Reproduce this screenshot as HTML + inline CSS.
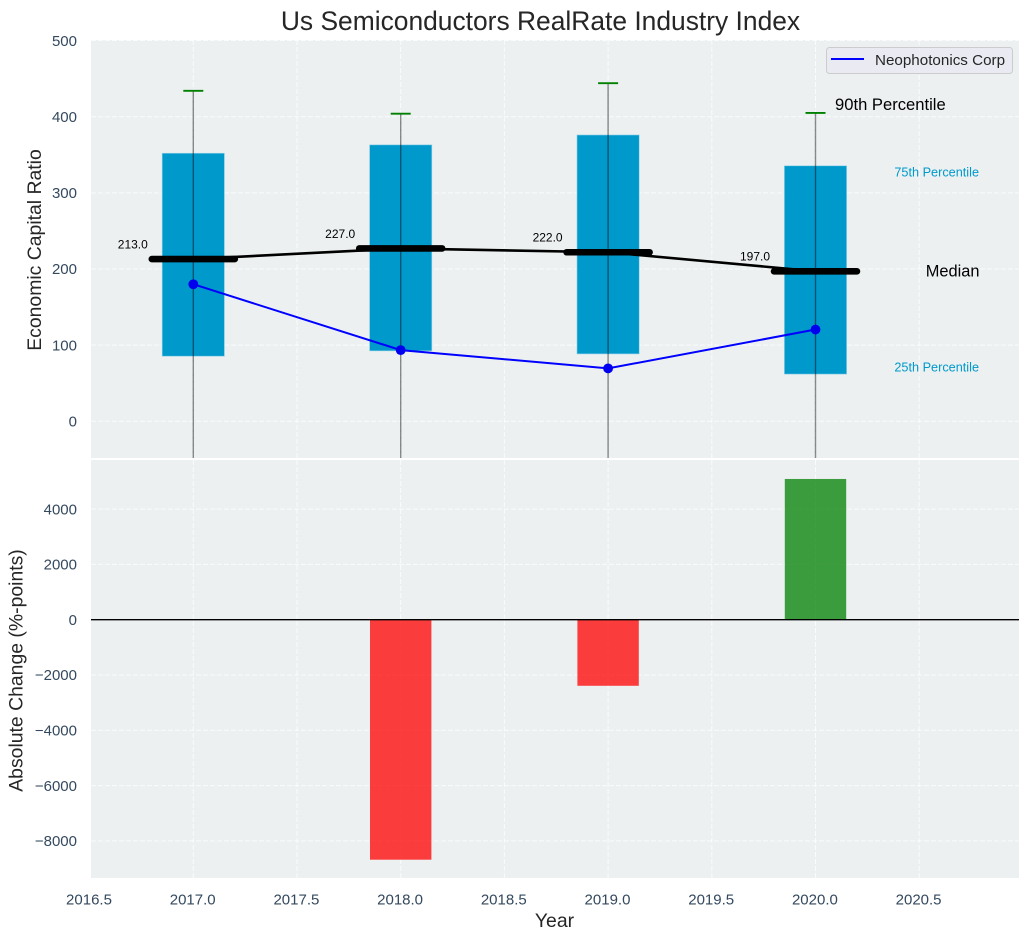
<!DOCTYPE html>
<html>
<head>
<meta charset="utf-8">
<title>Us Semiconductors RealRate Industry Index</title>
<style>
html,body{margin:0;padding:0;background:#fff;}
svg{display:block;font-family:"Liberation Sans",sans-serif;}
</style>
</head>
<body>
<svg id="chart" width="1029" height="940" viewBox="0 0 1029 940" xmlns="http://www.w3.org/2000/svg">
<defs>
<clipPath id="clip-top"><rect x="91" y="40" width="928" height="418"/></clipPath>
<clipPath id="clip-bottom"><rect x="91" y="460" width="928" height="418"/></clipPath>
</defs>
</svg>
<script>
const years = [2017, 2018, 2019, 2020];
const p90 = [434, 404, 444, 405];
const p75 = [352, 363, 376, 335.5];
const medians = [213, 227, 222, 197];
const p25 = [85.5, 92.5, 88.5, 62];
const whiskerLow = [-70, -70, -70, -70];
const companyValues = [180, 93.5, 69.5, 120.5];
const companyName = 'Neophotonics Corp';
const changeYears = [2018, 2019, 2020];
const changeValues = [-8680, -2390, 5090];
const xTicks = [2016.5, 2017, 2017.5, 2018, 2018.5, 2019, 2019.5, 2020, 2020.5];
const topTicks = [0, 100, 200, 300, 400, 500];
const bottomTicks = [-8000, -6000, -4000, -2000, 0, 2000, 4000];

const NS = 'http://www.w3.org/2000/svg';
const svg = document.getElementById('chart');
const fmtNum = v => String(v).replace('-', '\u2212');
const X = v => 193.3 + (v - 2017) * 207.4;
const YT = v => 421.3 - v * 0.7615;
const YB = v => 619.7 - v * 0.02765;
const boxHalf = 0.15;
const medianHalf = 0.2;
const barHalf = 0.148;

function make(tag, attrs, parent, text) {
  const el = document.createElementNS(NS, tag);
  for (const k in attrs) el.setAttribute(k, attrs[k]);
  if (text !== undefined) el.textContent = text;
  (parent || svg).appendChild(el);
  return el;
}
function polyPoints(xs, ys, yFn) {
  return xs.map((x, i) => X(x).toFixed(2) + ',' + yFn(ys[i]).toFixed(2)).join(' ');
}

/* Panels */
const topBg = make('rect', {x: 91, y: 40, width: 928, height: 418, fill: '#ecf0f1'});


const botBg = make('rect', {x: 91, y: 460, width: 928, height: 418, fill: '#ecf0f1'});



const gridStyle = {stroke: '#ffffff', 'stroke-opacity': 0.75, 'stroke-width': 1, 'stroke-dasharray': '5 2', fill: 'none'};

/* Grid */
xTicks.forEach(t => {
  if (X(t) < 91) return;
  const g1 = make('line', Object.assign({x1: X(t), x2: X(t), y1: 40, y2: 458}, gridStyle));
  
  
  const g2 = make('line', Object.assign({x1: X(t), x2: X(t), y1: 460, y2: 878}, gridStyle));
  
  
});
topTicks.forEach(t => {
  const g = make('line', Object.assign({x1: 91, x2: 1019, y1: YT(t), y2: YT(t)}, gridStyle));
  
  
});
bottomTicks.forEach(t => {
  const g = make('line', Object.assign({x1: 91, x2: 1019, y1: YB(t), y2: YB(t)}, gridStyle));
  
  
});

/* Top panel marks */
const topLayer = make('g', {'clip-path': 'url(#clip-top)'});



years.forEach((yr, i) => {
  const box = make('rect', {
    x: X(yr - boxHalf), y: YT(p75[i]),
    width: X(yr + boxHalf) - X(yr - boxHalf), height: YT(p25[i]) - YT(p75[i]),
    fill: '#0099cc', stroke: '#8fd0e6', 'stroke-width': 0.6
  }, topLayer);
  
  
});
years.forEach((yr, i) => {
  const w = make('line', {
    x1: X(yr), x2: X(yr), y1: YT(p90[i]), y2: YT(whiskerLow[i]),
    stroke: '#000000', 'stroke-opacity': 0.45, 'stroke-width': 1.4
  }, topLayer);
  
  
  const c = make('line', {
    x1: X(yr) - 10, x2: X(yr) + 10, y1: YT(p90[i]), y2: YT(p90[i]),
    stroke: '#008000', 'stroke-width': 1.9
  }, topLayer);
  
  
});

const medianLine = make('polyline', {
  points: polyPoints(years, medians, YT), fill: 'none', stroke: '#000000', 'stroke-width': 2.6
}, topLayer);



years.forEach((yr, i) => {
  const m = make('line', {
    x1: X(yr - medianHalf), x2: X(yr + medianHalf), y1: YT(medians[i]), y2: YT(medians[i]),
    stroke: '#000000', 'stroke-width': 6.6, 'stroke-linecap': 'round'
  }, topLayer);
  
  
  const lab = make('text', {
    x: X(yr) - 60.5, y: YT(medians[i]) - 10.6, 'text-anchor': 'middle', 'font-size': 12, fill: '#000000'
  }, svg, medians[i].toFixed(1));
  
  
});

const companyLine = make('polyline', {
  points: polyPoints(years, companyValues, YT), fill: 'none', stroke: '#0000ff', 'stroke-width': 2
}, topLayer);


years.forEach((yr, i) => {
  const p = make('circle', {cx: X(yr), cy: YT(companyValues[i]), r: 4.9, fill: '#0000ee'}, topLayer);
  
  
});

/* Bottom panel marks */
const botLayer = make('g', {'clip-path': 'url(#clip-bottom)'});


changeYears.forEach((yr, i) => {
  const v = changeValues[i];
  const r = make('rect', {
    x: X(yr - barHalf), width: X(yr + barHalf) - X(yr - barHalf),
    y: Math.min(YB(0), YB(v)), height: Math.abs(YB(v) - YB(0)),
    fill: v < 0 ? '#ff0000' : '#008000', 'fill-opacity': 0.75
  }, botLayer);
  
  
});
const zero = make('line', {x1: 91, x2: 1019, y1: YB(0), y2: YB(0), stroke: '#000000', 'stroke-width': 1.3});



/* Ticks */
const tickColor = '#34495e';
topTicks.forEach(t => {
  const l = make('text', {x: 77, y: YT(t) + 5.2, 'text-anchor': 'end', 'font-size': 15, fill: tickColor}, svg, fmtNum(t));
  
  
});
bottomTicks.forEach(t => {
  const l = make('text', {x: 77, y: YB(t) + 5.2, 'text-anchor': 'end', 'font-size': 15, fill: tickColor}, svg, fmtNum(t));
  
  
});
xTicks.forEach(t => {
  const l = make('text', {x: X(t) - 0.6, y: 904.5, 'text-anchor': 'middle', 'font-size': 15, fill: tickColor}, svg, t.toFixed(1));
  
  
});

/* Titles */
const title = make('text', {x: 540.5, y: 30, 'text-anchor': 'middle', 'font-size': 26.4, fill: '#262626'}, svg, 'Us Semiconductors RealRate Industry Index');


const yTop = make('text', {transform: 'translate(41 250) rotate(-90)', 'text-anchor': 'middle', 'font-size': 19.4, fill: '#262626'}, svg, 'Economic Capital Ratio');


const yBot = make('text', {transform: 'translate(22.5 670.5) rotate(-90)', 'text-anchor': 'middle', 'font-size': 19.4, fill: '#262626'}, svg, 'Absolute Change (%-points)');


const xTitle = make('text', {x: 554.5, y: 927, 'text-anchor': 'middle', 'font-size': 19.4, fill: '#262626'}, svg, 'Year');



/* Percentile annotations */
const a90 = make('text', {x: 835, y: 110, 'font-size': 16.6, fill: '#000000'}, svg, '90th Percentile');


const a75 = make('text', {x: 979, y: 176.5, 'text-anchor': 'end', 'font-size': 12.7, fill: '#0099cc'}, svg, '75th Percentile');


const aMed = make('text', {x: 979.5, y: 276.5, 'text-anchor': 'end', 'font-size': 16.4, fill: '#000000'}, svg, 'Median');


const a25 = make('text', {x: 979, y: 371.5, 'text-anchor': 'end', 'font-size': 12.7, fill: '#0099cc'}, svg, '25th Percentile');



/* Legend */
const legend = make('g', {});


const legendBox = make('rect', {x: 826.5, y: 47.5, width: 186, height: 26, rx: 3, fill: '#eaeaf2', 'fill-opacity': 0.8, stroke: '#cccccc', 'stroke-width': 1}, legend);


const legendLine = make('line', {x1: 831, x2: 864, y1: 59, y2: 59, stroke: '#0000ff', 'stroke-width': 2}, legend);


const legendText = make('text', {x: 875, y: 65, 'font-size': 15.2, fill: '#262626'}, legend, companyName);


</script>
</body>
</html>
